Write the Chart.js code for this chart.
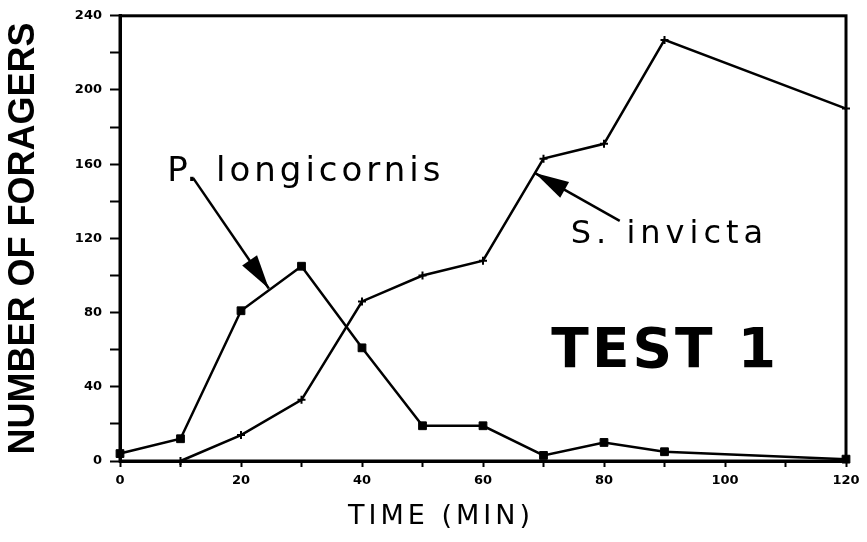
<!DOCTYPE html>
<html>
<head>
<meta charset="utf-8">
<script src="https://cdn.jsdelivr.net/npm/chart.js@4.4.0/dist/chart.umd.min.js"></script>
<style>
  html, body { margin: 0; padding: 0; background: #fff; }
  #marco { width: 867px; height: 542px; }
</style>
</head>
<body>
<div id="marco"><canvas id="grafico"></canvas></div>
<script>
// Datos (TEST 1)
const tiemposLongicornis = [0, 10, 20, 30, 40, 50, 60, 70, 80, 90, 120];
const forrajerasLongicornis = [4, 12, 81, 105, 61, 19, 19, 3, 10, 5, 1];

const tiemposInvicta = [10, 20, 30, 40, 50, 60, 70, 80, 90, 120];
const forrajerasInvicta = [0, 14, 33, 86, 100, 108, 163, 171, 227, 190];

const etiquetasX = [0, 20, 40, 60, 80, 100, 120];
const etiquetasY = [0, 40, 80, 120, 160, 200, 240];

const aPuntos = (xs, ys) => xs.map((x, i) => ({ x, y: ys[i] }));

// flechas y rótulos, en unidades de los ejes
const dibujarFlecha = (ctx, sx, sy, x0, y0, x1, y1) => {
    const ax = sx.getPixelForValue(x0), ay = sy.getPixelForValue(y0);
    const bx = sx.getPixelForValue(x1), by = sy.getPixelForValue(y1);
    const ang = Math.atan2(by - ay, bx - ax);
    ctx.beginPath();
    ctx.moveTo(ax, ay);
    ctx.lineTo(bx, by);
    ctx.stroke();
    const largo = 34, ancho = 9;
    ctx.beginPath();
    ctx.moveTo(bx, by);
    ctx.lineTo(bx - largo * Math.cos(ang) + ancho * Math.sin(ang), by - largo * Math.sin(ang) - ancho * Math.cos(ang));
    ctx.lineTo(bx - largo * Math.cos(ang) - ancho * Math.sin(ang), by - largo * Math.sin(ang) + ancho * Math.cos(ang));
    ctx.closePath();
    ctx.fill();
};

const anotaciones = {
    id: 'anotaciones',
    afterLayout(chart) {
        // título del eje x con letras separadas y algo corrido a la izquierda, como en el original
        const sx = chart.scales.x;
        if (!sx._espaciado) {
            const original = sx.drawTitle.bind(sx);
            sx.drawTitle = (...args) => {
                chart.ctx.save();
                chart.ctx.letterSpacing = '4px';
                chart.ctx.translate(-42, 0);
                original(...args);
                chart.ctx.restore();
            };
            sx._espaciado = true;
        }
    },
    afterDatasetsDraw(chart) {
        const { ctx, chartArea, scales: { x, y } } = chart;
        ctx.save();
        ctx.strokeStyle = '#000';
        ctx.fillStyle = '#000';

        // marco del gráfico
        ctx.lineWidth = 3;
        ctx.strokeRect(chartArea.left, chartArea.top, chartArea.right - chartArea.left, chartArea.bottom - chartArea.top);

        ctx.lineWidth = 2.5;
        dibujarFlecha(ctx, x, y, 12.1, 152.5, 24.6, 93);
        dibujarFlecha(ctx, x, y, 82.6, 129.4, 68.6, 155.2);

        ctx.textBaseline = 'alphabetic';
        ctx.textAlign = 'left';
        ctx.letterSpacing = '4px';
        ctx.font = '34px "DejaVu Sans"';
        ctx.fillText('P. longicornis', x.getPixelForValue(7.8), y.getPixelForValue(151));
        ctx.letterSpacing = '5px';
        ctx.font = '32px "DejaVu Sans"';
        ctx.fillText('S. invicta', x.getPixelForValue(74.5), y.getPixelForValue(117.6));
        ctx.letterSpacing = '3px';
        ctx.font = 'bold 55px "DejaVu Sans"';
        ctx.fillText('TEST 1', x.getPixelForValue(71.3), y.getPixelForValue(50.5));
        ctx.restore();
    }
};

new Chart(document.getElementById('grafico'), {
    type: 'line',
    data: {
        datasets: [
            {
                label: 'P. longicornis',
                data: aPuntos(tiemposLongicornis, forrajerasLongicornis),
                borderColor: '#000',
                backgroundColor: '#000',
                borderWidth: 2.5,
                pointStyle: 'rect',
                pointRadius: 5.5,
                pointBorderWidth: 1,
                clip: false
            },
            {
                label: 'S. invicta',
                data: aPuntos(tiemposInvicta, forrajerasInvicta),
                borderColor: '#000',
                backgroundColor: '#000',
                borderWidth: 2.5,
                pointStyle: 'cross',
                pointRadius: 4,
                pointBorderWidth: 2,
                clip: false
            }
        ]
    },
    options: {
        responsive: true,
        maintainAspectRatio: false,
        animation: false,
        layout: { padding: { top: 14, right: 21, bottom: 0, left: 0 } },
        plugins: {
            legend: { display: false },
            tooltip: { enabled: false }
        },
        scales: {
            x: {
                type: 'linear',
                min: 0,
                max: 120,
                afterFit: (s) => { s.height = 81; },
                ticks: {
                    stepSize: 10,
                    color: '#000',
                    padding: 6,
                    maxRotation: 0,
                    autoSkip: false,
                    font: { family: 'DejaVu Sans', size: 13, weight: 'bold' },
                    callback: (v) => etiquetasX.includes(v) ? v : ''
                },
                grid: { drawOnChartArea: false, tickLength: 6, tickWidth: 2, tickColor: '#000' },
                border: { color: '#000', width: 3 },
                title: {
                    display: true,
                    text: 'TIME (MIN)',
                    color: '#000',
                    font: { family: 'DejaVu Sans', size: 27 },
                    padding: { top: 0, bottom: 9 }
                }
            },
            y: {
                min: 0,
                max: 240,
                afterFit: (s) => { s.width = 120; },
                ticks: {
                    stepSize: 20,
                    color: '#000',
                    padding: 8,
                    autoSkip: false,
                    font: { family: 'DejaVu Sans', size: 13, weight: 'bold' },
                    callback: (v) => etiquetasY.includes(v) ? v : ''
                },
                grid: { drawOnChartArea: false, tickLength: 10, tickWidth: 2, tickColor: '#000' },
                border: { color: '#000', width: 3 },
                title: {
                    display: true,
                    text: 'NUMBER OF FORAGERS',
                    color: '#000',
                    font: { family: 'Liberation Sans', size: 36, weight: 'bold' },
                    padding: { top: 2, bottom: 0 }
                }
            }
        }
    },
    plugins: [anotaciones]
});
</script>
</body>
</html>
